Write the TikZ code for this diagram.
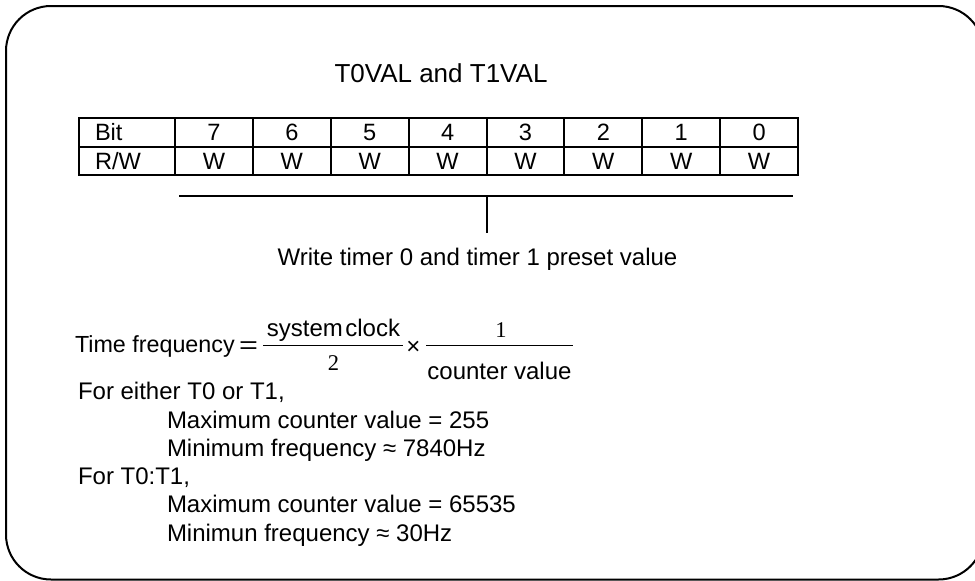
\documentclass[tikz,border=0pt]{standalone}
\usepackage{fontspec}
\setmainfont{Liberation Sans}
\newfontfamily\serifnum{Liberation Serif}
\begin{document}
\begin{tikzpicture}[x=1pt,y=-1pt,
  txt/.style={inner sep=0pt, outer sep=0pt, anchor=base west, font=\fontsize{24}{28}\selectfont},
  ctxt/.style={inner sep=0pt, outer sep=0pt, anchor=base, font=\fontsize{24}{28}\selectfont},
  numtxt/.style={inner sep=0pt, outer sep=0pt, anchor=base, font=\fontsize{22.5}{26}\serifnum},
  cell/.style={draw, line width=2pt, inner sep=0pt, outer sep=0pt, anchor=north west,
    minimum height=28.5pt, text height=17.2pt, text depth=0pt,
    font=\fontsize{23.6}{28}\selectfont},
  headcell/.style={cell, inner xsep=16pt, text width=64pt, align=left},
  rule/.style={line width=1.8pt},
  fracbar/.style={line width=1.2pt}]
\useasboundingbox (0,0) rectangle (975,581);
\fill[white] (0,0) rectangle (975,581);
\clip (0,0) rectangle (975,581);
% outer frame
\draw[line width=2pt, rounded corners=45pt] (6,6) rectangle (983.5,579.5);
% title
\node[ctxt, font=\fontsize{26}{30}\selectfont] (title) at (441,82) {T0VAL and T1VAL};
% register table
\node[headcell] (bit) at (79,118) {Bit};
\node[headcell] (rw) at (79,146.5) {R/W};
\foreach \k in {0,...,7}{
  \pgfmathtruncatemacro\b{7-\k}
  \node[cell, minimum width=77.875pt] (b\b) at (175+77.875*\k,118) {\b};
  \node[cell, minimum width=77.875pt] (w\b) at (175+77.875*\k,146.5) {W};
}
% bracket
\coordinate (hl) at (179,196);
\coordinate (hr) at (793,196);
\coordinate (hm) at (487,196);
\coordinate (hb) at (487,233);
\draw[rule] (hl) -- (hr);
\draw[rule] (hm) -- (hb);
\node[ctxt] (desc) at (477.5,265) {Write timer 0 and timer 1 preset value};
% formula
\node[txt, font=\fontsize{23.3}{28}\selectfont] (tf) at (75,352.5) {Time frequency};
\node[ctxt, font=\fontsize{24}{28}\selectfont\addfontfeatures{FakeStretch=1.35}] (eq) at (248.5,353.5) {=};
\node[ctxt] (num1) at (333.5,336.7) {system\kern0.1em clock};
\node[numtxt] (den1) at (333.5,370.5) {2};
\draw[fracbar] (263,345.7) -- (403,345.7);
\node[ctxt] (times) at (413.5,354) {×};
\node[numtxt] (num2) at (501,337) {1};
\node[ctxt] (den2) at (499.5,379) {counter value};
\draw[fracbar] (426,345.7) -- (573,345.7);
% notes
\node[txt] (l1) at (78,399.5) {For either T0 or T1,};
\node[txt] (l2) at (167,428) {Maximum counter value = 255};
\node[txt] (l3) at (167,456) {Minimum frequency ≈ 7840Hz};
\node[txt] (l4) at (78,484) {For T0:T1,};
\node[txt] (l5) at (167,512.5) {Maximum counter value = 65535};
\node[txt] (l6) at (167,541) {Minimun frequency ≈ 30Hz};
\end{tikzpicture}
\end{document}
